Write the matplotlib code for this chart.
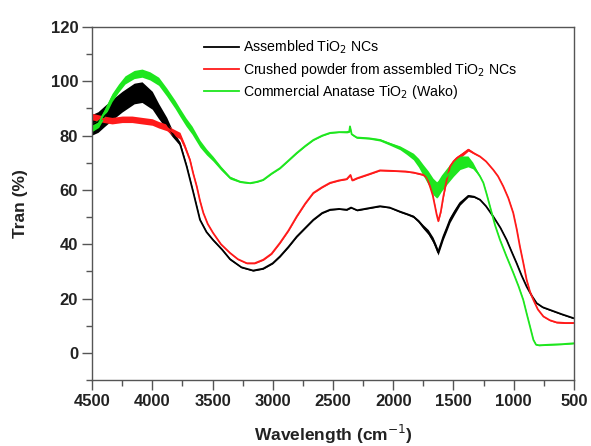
import numpy as np
import matplotlib
matplotlib.use("Agg")
import matplotlib.pyplot as plt
from matplotlib.ticker import MultipleLocator

plt.rcParams["font.family"] = ["Liberation Sans", "DejaVu Sans"]

# Assembled TiO2 NCs (black)
wn_black = [4500, 4450, 4400, 4334, 4250, 4150, 4085, 4000, 3947, 3880, 3836, 3770, 3714, 3659,
            3604, 3550, 3496, 3420, 3355, 3260, 3163, 3080, 3000, 2940, 2870, 2801, 2730, 2663,
            2590, 2525, 2450, 2386, 2350, 2300, 2200, 2110, 2030, 1944, 1880, 1833, 1790, 1753,
            1710, 1670, 1645, 1628, 1605, 1584, 1555, 1529, 1490, 1446, 1410, 1377, 1330, 1280,
            1230, 1170, 1110, 1059, 1020, 976, 935, 893, 850, 810, 760, 699, 600, 506]
tr_black = [84, 85, 87, 89.5, 92.5, 95.5, 96, 93, 89, 84.5, 81, 77, 68.6, 59,
            49, 44.5, 41.6, 38, 34.5, 31.5, 30.3, 31, 33, 35.5, 39, 42.8, 46, 49,
            51.5, 52.7, 53, 52.7, 53.5, 52.5, 53.3, 54, 53.5, 52, 51, 50.2, 48.5, 46.5,
            44.5, 41.6, 39, 37, 40, 42.8, 46, 49, 52, 55.1, 56.5, 57.8, 57.5, 56.4,
            54, 50.2, 46, 41.6, 37.5, 33, 28.5, 24.4, 21, 18.3, 16.8, 15.8, 14.2, 12.8]
# half-width of the noise band seen on the trace
sp_black = [3.8, 3.8, 3.8, 3.8, 3.8, 3.8, 3.8, 3.3, 2.8, 2.2, 1.3, 0.7, 0.4, 0.3,
            0.3, 0.3, 0.3, 0.3, 0.3, 0.2, 0.2, 0.2, 0.2, 0.2, 0.2, 0.2, 0.2, 0.2,
            0.2, 0.2, 0.2, 0.2, 0.2, 0.2, 0.2, 0.2, 0.2, 0.3, 0.3, 0.4, 0.5, 0.7,
            0.9, 1, 1, 1, 1, 1, 1, 1, 0.9, 0.7, 0.5, 0.4, 0.3, 0.2,
            0.2, 0.2, 0.2, 0.2, 0.2, 0.2, 0.2, 0.2, 0.2, 0.2, 0.2, 0.2, 0.2, 0.2]

# Crushed powder (red)
wn_red = [4500, 4450, 4400, 4334, 4250, 4168, 4085, 4000, 3947, 3880, 3836, 3770, 3730, 3687,
          3660, 3631, 3604, 3576, 3540, 3496, 3430, 3355, 3290, 3216, 3150, 3078, 3010, 2940,
          2870, 2801, 2730, 2663, 2590, 2525, 2450, 2386, 2355, 2340, 2300, 2200, 2110, 2000,
          1900, 1833, 1753, 1720, 1695, 1672, 1653, 1640, 1626, 1605, 1584, 1555, 1529, 1500,
          1473, 1430, 1377, 1330, 1280, 1230, 1170, 1130, 1087, 1045, 1004, 975, 949, 920,
          893, 865, 837, 800, 754, 700, 644, 575, 506]
tr_red = [87, 86.5, 86, 85.5, 86, 86, 85.5, 85, 84, 83, 81.5, 80, 76, 71,
          66, 61.3, 56, 51.5, 47.5, 44.2, 40, 36.8, 34.5, 33, 33, 34.3, 36.5, 40.5,
          45, 50.2, 55, 58.9, 61, 62.6, 63.5, 64, 65.5, 63.5, 64.3, 65.8, 67.2, 67,
          66.8, 66.4, 65.6, 64.5, 61.3, 58, 53.9, 51, 48.5, 52, 57.6, 64, 68.6, 70.5,
          71.7, 73, 74.8, 73.5, 72.3, 70.5, 67.4, 65, 61.3, 57, 51.5, 45.5, 39.2, 33,
          26.9, 22.5, 19.5, 16, 13.4, 12, 11.2, 11, 11]
sp_red = [1.2, 1.2, 1.2, 1.2, 1.2, 1.2, 1.2, 1.2, 1.2, 1.2, 1.2, 1.2, 0.9, 0.5,
          0.4, 0.3, 0.3, 0.2, 0.2, 0.2, 0.2, 0.2, 0.2, 0.2, 0.2, 0.2, 0.2, 0.2,
          0.2, 0.2, 0.2, 0.2, 0.2, 0.2, 0.2, 0.2, 0.2, 0.2, 0.2, 0.2, 0.2, 0.2,
          0.2, 0.2, 0.3, 0.3, 0.3, 0.3, 0.3, 0.3, 0.3, 0.3, 0.4, 0.5, 0.7, 0.7,
          0.7, 0.7, 0.5, 0.3, 0.2, 0.2, 0.2, 0.2, 0.2, 0.2, 0.2, 0.2, 0.2, 0.2,
          0.2, 0.2, 0.2, 0.2, 0.2, 0.2, 0.2, 0.2, 0.2]

# Commercial Anatase TiO2 (green)
wn_green = [4500, 4445, 4400, 4334, 4280, 4226, 4150, 4085, 4020, 3947, 3880, 3811, 3770, 3720,
            3670, 3604, 3550, 3496, 3430, 3355, 3270, 3189, 3130, 3080, 3010, 2940, 2870, 2801,
            2730, 2663, 2590, 2525, 2450, 2386, 2365, 2359, 2345, 2303, 2200, 2110, 2030, 1944,
            1890, 1833, 1790, 1753, 1710, 1670, 1640, 1628, 1600, 1556, 1500, 1446, 1380, 1340,
            1307, 1280, 1252, 1225, 1197, 1155, 1114, 1060, 1004, 960, 921, 890, 865, 837,
            815, 790, 700, 600, 506]
tr_green = [83, 84.5, 88, 94, 97.5, 100.5, 102.5, 103, 102, 100, 96, 91.5, 88.5, 85,
            82, 77, 74, 71.5, 68, 64.5, 63, 62.5, 63, 63.7, 66, 68, 70.8, 73.6,
            76.2, 78.4, 80, 81, 81.3, 81.3, 81.5, 83.4, 80.5, 79.3, 79, 78.4, 77, 75.5,
            74, 72.3, 70, 67.4, 64.5, 61.3, 60, 60.5, 62.5, 65, 68, 70, 70.5, 69,
            66.8, 65, 62.6, 58.5, 53.9, 47, 41.6, 35.5, 29.5, 24.5, 19.5, 14, 9.7, 4.8,
            3, 2.8, 3, 3.2, 3.5]
sp_green = [1.5, 1.5, 1.5, 1.5, 1.5, 1.5, 1.5, 1.5, 1.5, 1.5, 1.5, 1.5, 1.5, 1.5,
            1.5, 1.3, 1.1, 0.9, 0.7, 0.5, 0.3, 0.2, 0.2, 0.2, 0.2, 0.2, 0.2, 0.2,
            0.2, 0.2, 0.2, 0.2, 0.2, 0.3, 0.3, 0.3, 0.3, 0.3, 0.3, 0.4, 0.5, 0.7,
            0.9, 1.2, 1.6, 2, 2.5, 3, 3, 3, 3, 3, 3, 2.5, 2, 1.2,
            0.6, 0.3, 0.2, 0.2, 0.2, 0.2, 0.2, 0.2, 0.2, 0.2, 0.2, 0.2, 0.2, 0.2,
            0.2, 0.2, 0.2, 0.2, 0.2]

labels = ["Assembled TiO$_2$ NCs",
          "Crushed powder from assembled TiO$_2$ NCs",
          "Commercial Anatase TiO$_2$ (Wako)"]
colors = ["#000000", "#ff1a1a", "#1ee61e"]

fig = plt.figure(figsize=(5.91, 4.46), dpi=100)
ax = fig.add_axes([0.1557, 0.148, 0.8155, 0.7915])

series = [(wn_black, tr_black, sp_black), (wn_red, tr_red, sp_red), (wn_green, tr_green, sp_green)]
for (wn, tr, sp), c, lab in zip(series, colors, labels):
    wn = np.array(wn)
    tr = np.array(tr)
    sp = np.array(sp)
    ax.fill_between(wn, tr - sp, tr + sp, color=c, linewidth=0)
    ax.plot(wn, tr, color=c, lw=1.3, label=lab)

ax.set_xlim(4500, 500)
ax.set_ylim(-10, 120)
ax.xaxis.set_major_locator(MultipleLocator(500))
ax.xaxis.set_minor_locator(MultipleLocator(250))
ax.yaxis.set_major_locator(MultipleLocator(20))
ax.yaxis.set_minor_locator(MultipleLocator(10))
ax.set_yticks([0, 20, 40, 60, 80, 100, 120])

for s in ax.spines.values():
    s.set_color("#555555")
    s.set_linewidth(1.0)
ax.tick_params(which="both", direction="out", top=False, right=False, colors="#555555",
               labelcolor="#222222", width=1.0)
ax.tick_params(which="major", length=7, labelsize=12, pad=3)
ax.tick_params(which="minor", length=4)
for t in ax.get_xticklabels() + ax.get_yticklabels():
    t.set_fontweight("bold")

ax.set_xlabel("Wavelength (cm$^{-1}$)", fontsize=12.5, fontweight="bold", color="#222222", labelpad=10)
ax.set_ylabel("Tran (%)", fontsize=12.5, fontweight="bold", color="#222222", labelpad=16)

ax.legend(loc="upper left", bbox_to_anchor=(0.232, 0.966), frameon=False, fontsize=10.2,
          handlelength=2.5, handletextpad=0.25, labelspacing=0.3, borderpad=0, borderaxespad=0)

fig.savefig("out.png", dpi=100)
